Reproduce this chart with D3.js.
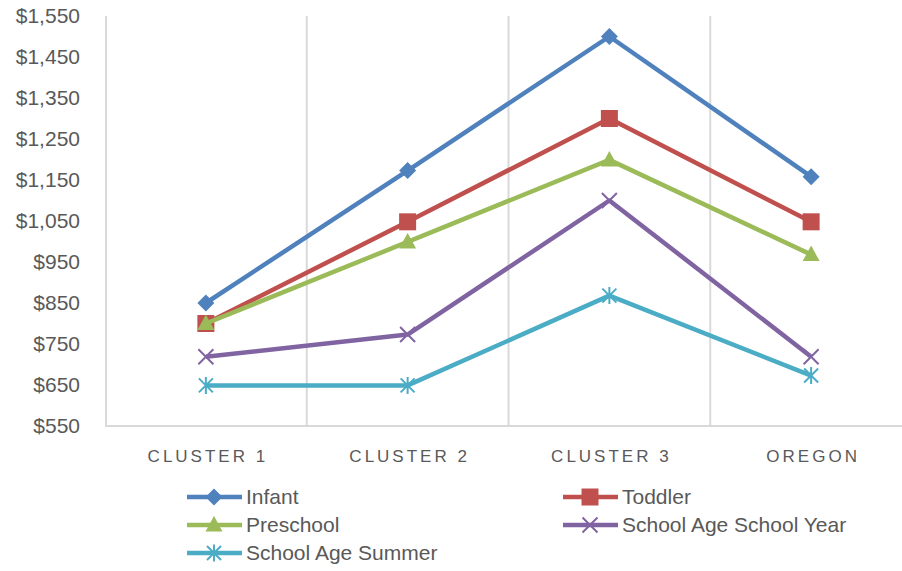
<!DOCTYPE html>
<html>
<head>
<meta charset="utf-8">
<script src="https://cdn.jsdelivr.net/npm/d3@7"></script>
<style>
    body { margin: 0; background: #fff; }
    svg text { font-family: "Liberation Sans", Arial, sans-serif; fill: #595959; }
</style>
</head>
<body>
<svg id="chart" width="902" height="571"></svg>
<script>
// categories & values
const categories = ['CLUSTER 1', 'CLUSTER 2', 'CLUSTER 3', 'OREGON'];
const yTicks = [550, 650, 750, 850, 950, 1050, 1150, 1250, 1350, 1450, 1550];

const infant = [850, 1173, 1500, 1158];
const toddler = [800, 1048, 1300, 1048];
const preschool = [800, 999, 1199, 968];
const schoolYear = [719, 773, 1100, 719];
const schoolSummer = [649, 649, 868, 673];

let series = [
    {name: 'Infant', values: infant, color: '#4F81BD', marker: 'diamond'},
    {name: 'Toddler', values: toddler, color: '#C0504D', marker: 'square'},
    {name: 'Preschool', values: preschool, color: '#9BBB59', marker: 'triangle'},
    {name: 'School Age School Year', values: schoolYear, color: '#8064A2', marker: 'x'},
    {name: 'School Age Summer', values: schoolSummer, color: '#4BACC6', marker: 'star'}
];

let svg = d3.select('#chart');

let x = d3.scaleBand().domain(categories).range([105, 912]);
let y = d3.scaleLinear().domain([550, 1550]).range([426, 16]);

// vertical gridlines between categories
svg.append('g')
    .selectAll('line')
    .data(categories.slice(1))
    .join('line')
    .attr('x1', d => x(d)).attr('x2', d => x(d))
    .attr('y1', y(1550)).attr('y2', y(550))
    .attr('stroke', '#d9d9d9').attr('stroke-width', 2);

// axis lines
svg.append('line')
    .attr('x1', x.range()[0] + 1).attr('x2', x.range()[0] + 1)
    .attr('y1', y(1550)).attr('y2', y(550))
    .attr('stroke', '#d9d9d9').attr('stroke-width', 2);
svg.append('line')
    .attr('x1', x.range()[0]).attr('x2', x.range()[1])
    .attr('y1', y(550)).attr('y2', y(550))
    .attr('stroke', '#d9d9d9').attr('stroke-width', 2);

// y tick labels
let fmt = d3.format(',');
svg.append('g')
    .selectAll('text')
    .data(yTicks)
    .join('text')
    .attr('x', 80)
    .attr('y', d => y(d))
    .attr('dy', '0.35em')
    .attr('text-anchor', 'end')
    .style('font-size', '21px')
    .text(d => '$' + fmt(d));

// category labels
svg.append('g')
    .selectAll('text')
    .data(categories)
    .join('text')
    .attr('x', d => x(d) + x.bandwidth() / 2 + 2)
    .attr('y', 462)
    .attr('text-anchor', 'middle')
    .style('font-size', '17px')
    .style('letter-spacing', '3px')
    .text(d => d);

function drawMarker(g, type, color) {
    if (type === 'diamond') {
        g.append('path').attr('d', 'M0,-8.5L8.5,0L0,8.5L-8.5,0Z').attr('fill', color);
    } else if (type === 'square') {
        g.append('rect').attr('x', -8.5).attr('y', -8.5).attr('width', 17).attr('height', 17).attr('fill', color);
    } else if (type === 'triangle') {
        g.append('path').attr('d', 'M0,-9L8.5,6.5L-8.5,6.5Z').attr('fill', color);
    } else if (type === 'x') {
        g.append('path').attr('d', 'M-7.5,-7.5L7.5,7.5M-7.5,7.5L7.5,-7.5').attr('stroke', color).attr('stroke-width', 2);
    } else if (type === 'star') {
        g.append('path').attr('d', 'M-7,-7L7,7M-7,7L7,-7M0,-8.5L0,8.5').attr('stroke', color).attr('stroke-width', 2);
    }
}

let line = d3.line()
    .x((d, i) => x(categories[i]) + x.bandwidth() / 2)
    .y(d => y(d));

series.forEach(s => {
    svg.append('path')
        .datum(s.values)
        .attr('fill', 'none')
        .attr('stroke', s.color)
        .attr('stroke-width', 4.5)
        .attr('stroke-linejoin', 'round')
        .attr('d', line);
    s.values.forEach((v, i) => {
        let g = svg.append('g')
            .attr('transform', `translate(${x(categories[i]) + x.bandwidth() / 2},${y(v)})`);
        drawMarker(g, s.marker, s.color);
    });
});

// legend
let legendPos = [[187, 497], [563, 497], [187, 525], [563, 525], [187, 553]];
series.forEach((s, i) => {
    let g = svg.append('g').attr('transform', `translate(${legendPos[i][0]},${legendPos[i][1]})`);
    g.append('line').attr('x1', 0).attr('x2', 55).attr('y1', 0).attr('y2', 0)
        .attr('stroke', s.color).attr('stroke-width', 4.5);
    let m = g.append('g').attr('transform', 'translate(27,0)');
    drawMarker(m, s.marker, s.color);
    g.append('text').attr('x', 59).attr('y', 0).attr('dy', '0.35em')
        .style('font-size', '21px').text(s.name);
});
</script>
</body>
</html>
